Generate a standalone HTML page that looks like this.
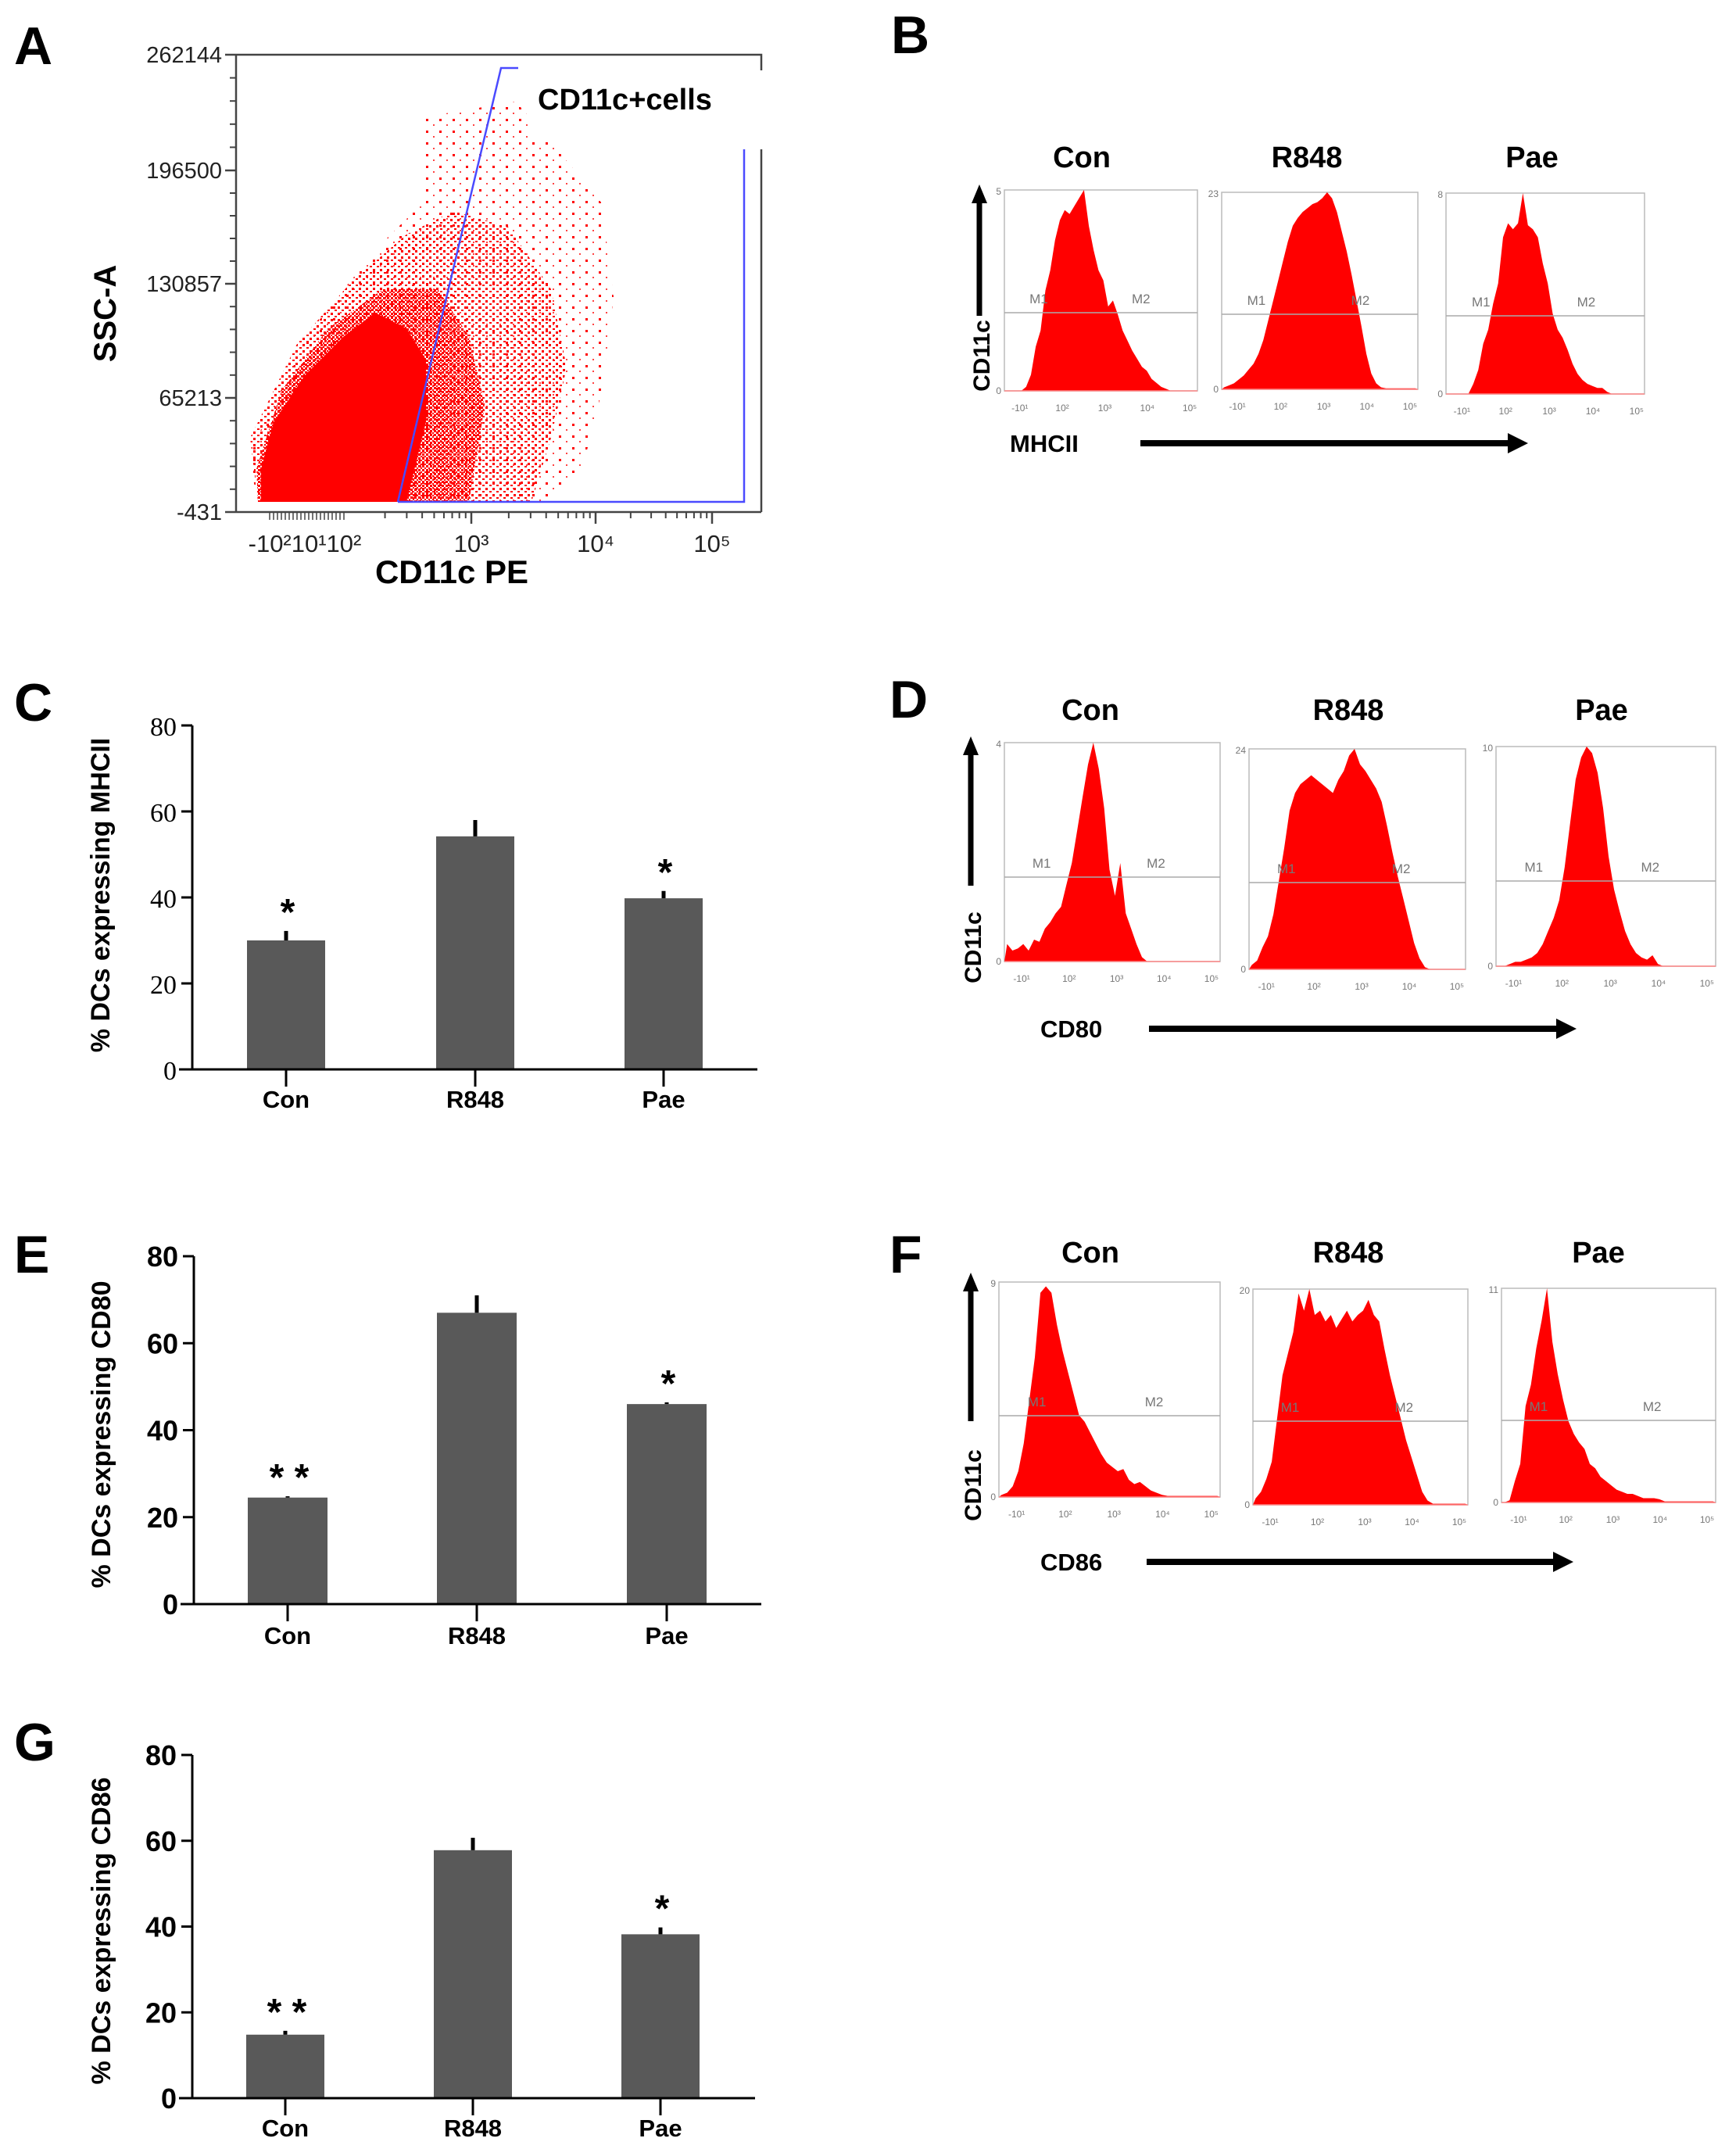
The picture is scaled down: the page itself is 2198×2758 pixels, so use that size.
<!DOCTYPE html>
<html><head><meta charset="utf-8"><title>DC flow cytometry figure</title>
<style>
html,body{margin:0;padding:0;background:#fff;}
svg{display:block;}
.lbl{font-family:"Liberation Sans",Arial,sans-serif;font-weight:bold;fill:#000;}
.reg{font-family:"Liberation Sans",Arial,sans-serif;fill:#222;}
.ser{font-family:"Liberation Serif","Times New Roman",serif;fill:#000;}
.sm{font-family:"Liberation Sans",Arial,sans-serif;fill:#777;}
</style></head>
<body>
<svg id="fig" xmlns="http://www.w3.org/2000/svg" width="2198" height="2758" viewBox="0 0 2198 2758">
<defs>
<pattern id="dotsSparse" width="17" height="15" patternUnits="userSpaceOnUse">
<rect x="1" y="2" width="3" height="3" fill="#f00"/><rect x="10" y="9" width="2" height="2" fill="#f44"/>
</pattern>
<pattern id="dotsMed" width="9" height="8" patternUnits="userSpaceOnUse">
<rect x="0" y="0" width="3" height="3" fill="#f00"/><rect x="5" y="4" width="3" height="2" fill="#f00"/>
</pattern>
<pattern id="dotsDense" width="5" height="5" patternUnits="userSpaceOnUse">
<rect x="0" y="0" width="3" height="3" fill="#f00"/><rect x="3" y="3" width="2" height="2" fill="#f00"/>
</pattern>
</defs>
<rect width="2198" height="2758" fill="#fff"/>

<!-- Panel A -->
<g id="panelA">
<text class="lbl" x="18" y="82" font-size="68">A</text>
<polygon points="540,150 660,130 720,200 770,260 785,380 770,500 745,600 700,645 330,645 318,580 400,420 480,320 540,260" fill="url(#dotsSparse)"/>
<polygon points="320,560 380,440 450,360 520,300 580,270 650,290 705,370 725,470 705,560 680,642 330,642" fill="url(#dotsMed)"/>
<polygon points="328,600 360,500 420,420 490,370 560,370 600,430 620,520 600,642 330,642" fill="url(#dotsDense)"/>
<polygon points="334,642 334,600 350,540 390,480 440,430 480,400 520,420 545,460 545,540 520,642" fill="#f00"/>
<polyline points="302,70 974,70 974,90" fill="none" stroke="#444" stroke-width="2.5"/>
<line x1="974" y1="191" x2="974" y2="655" stroke="#444" stroke-width="2.5"/>
<line x1="302" y1="70" x2="302" y2="655" stroke="#444" stroke-width="2.5"/>
<line x1="302" y1="655" x2="974" y2="655" stroke="#444" stroke-width="2.5"/>
<rect x="680" y="86" width="285" height="90" fill="#fff"/>
<polyline points="509,642 641,87 663,87" fill="none" stroke="#4a4aff" stroke-width="2.5"/>
<polyline points="509,642 952,642 952,191" fill="none" stroke="#4a4aff" stroke-width="2.5"/>
<text class="lbl" x="688" y="140" font-size="38">CD11c+cells</text>
<g id="aTicks"></g>
<text class="lbl" x="578" y="746" font-size="42" text-anchor="middle">CD11c PE</text>
<text class="lbl" x="148" y="401" font-size="40" text-anchor="middle" transform="rotate(-90 148 401)">SSC-A</text>
</g>

<g id="charts"></g>
</svg>
<script>
// ===== Panel A axis data =====
const aYTickLabels = ["262144","196500","130857","65213","-431"];
const aXTickLabels = ["10³","10⁴","10⁵"];

// ===== Bar chart data =====
const categories = ["Con","R848","Pae"];
const yTicks = [0,20,40,60,80];
const mhcValues = [30,54.2,39.8];
const mhcErr = [2.2,3.8,1.7];
const cd80Values = [24.5,67,46];
const cd80Err = [0.3,4,0.4];
const cd86Values = [14.8,57.8,38.2];
const cd86Err = [0.9,2.9,1.6];
const mhcStars = ["*","","*"];
const cd80Stars = ["* *","","*"];
const cd86Stars = ["* *","","*"];

// ===== Histogram data (relative counts, 40 bins across the x range) =====
const bCon = [0,0,0,0,0.02,0.08,0.22,0.3,0.5,0.6,0.75,0.85,0.9,0.88,0.92,0.96,1.0,0.82,0.7,0.6,0.55,0.42,0.45,0.38,0.3,0.25,0.2,0.16,0.12,0.1,0.06,0.04,0.02,0.01,0,0,0,0,0,0];
const bR848 = [0.01,0.02,0.03,0.05,0.07,0.1,0.13,0.18,0.25,0.35,0.45,0.55,0.65,0.75,0.83,0.87,0.9,0.92,0.94,0.95,0.97,1.0,0.97,0.9,0.8,0.7,0.58,0.45,0.32,0.18,0.08,0.03,0.01,0.005,0.005,0.005,0.005,0.005,0.005,0.005];
const bPae = [0,0,0,0,0,0.05,0.12,0.25,0.32,0.45,0.55,0.78,0.85,0.82,0.85,1.0,0.84,0.82,0.78,0.65,0.55,0.4,0.32,0.28,0.22,0.15,0.1,0.07,0.05,0.04,0.03,0.03,0.01,0,0,0,0,0,0,0];
const dCon = [0.08,0.05,0.06,0.08,0.05,0.1,0.09,0.15,0.18,0.22,0.25,0.35,0.45,0.6,0.75,0.9,1.0,0.88,0.7,0.42,0.3,0.45,0.22,0.15,0.08,0.02,0,0,0,0,0,0,0,0,0,0,0,0,0,0];
const dR848 = [0.02,0.04,0.1,0.15,0.25,0.4,0.55,0.72,0.8,0.84,0.86,0.88,0.86,0.84,0.82,0.8,0.86,0.9,0.97,1.0,0.93,0.9,0.86,0.82,0.76,0.65,0.53,0.42,0.32,0.22,0.12,0.05,0.01,0,0,0,0,0,0,0];
const dPae = [0,0,0.01,0.02,0.02,0.03,0.04,0.06,0.1,0.16,0.22,0.3,0.45,0.65,0.85,0.95,1.0,0.97,0.88,0.72,0.5,0.35,0.25,0.16,0.1,0.06,0.04,0.03,0.05,0.01,0,0,0,0,0,0,0,0,0,0];
const fCon = [0.01,0.02,0.05,0.12,0.25,0.45,0.65,0.95,0.98,0.95,0.8,0.68,0.58,0.48,0.38,0.35,0.3,0.25,0.2,0.16,0.14,0.12,0.13,0.08,0.06,0.07,0.05,0.03,0.02,0.01,0.005,0.005,0.005,0.005,0.005,0.005,0.005,0.005,0.005,0.005];
const fR848 = [0.03,0.06,0.12,0.2,0.4,0.6,0.7,0.8,0.98,0.9,1.0,0.88,0.9,0.85,0.88,0.82,0.86,0.9,0.85,0.88,0.9,0.95,0.88,0.85,0.72,0.6,0.5,0.4,0.3,0.22,0.14,0.06,0.02,0.005,0.005,0.005,0.005,0.005,0.005,0.005];
const fPae = [0,0.01,0.1,0.18,0.45,0.55,0.72,0.85,1.0,0.75,0.6,0.48,0.38,0.32,0.28,0.25,0.18,0.16,0.12,0.1,0.08,0.06,0.05,0.04,0.04,0.03,0.02,0.02,0.02,0.015,0.005,0.005,0.005,0.005,0.005,0.005,0.005,0.005,0.005,0.005];
const histXTicks = ["-10¹","10²","10³","10⁴","10⁵"];

const NS = "http://www.w3.org/2000/svg";
const root = document.getElementById("charts");
function mk(tag, attrs, parent, text){
  const e = document.createElementNS(NS, tag);
  for (const k in attrs) e.setAttribute(k, attrs[k]);
  if (text !== undefined) e.textContent = text;
  (parent || root).appendChild(e);
  return e;
}

// ----- Panel A ticks -----
(function(){
  const g = document.getElementById("aTicks");
  const yPos = [70,218,363,509,655];
  aYTickLabels.forEach((t,i)=>{
    const ln = mk("line",{x1:288,y1:yPos[i],x2:302,y2:yPos[i],stroke:"#444","stroke-width":2.5},g);
    
    
    const tx = mk("text",{x:284,y:yPos[i]+10,"font-size":29,"text-anchor":"end",class:"reg"},g,t);
    
    
    if(i<4){ for(let k=1;k<5;k++){ const yy=yPos[i]+(yPos[i+1]-yPos[i])*k/5;
      const m = mk("line",{x1:294,y1:yy,x2:302,y2:yy,stroke:"#444","stroke-width":2},g);
      
       } }
  });
  const decX = [445,603,762,911];
  for(let d=0; d<3; d++){
    for(let k=2;k<10;k++){
      const xx = decX[d] + (decX[d+1]-decX[d])*Math.log10(k);
      const m = mk("line",{x1:xx,y1:655,x2:xx,y2:663,stroke:"#444","stroke-width":2},g);
      
      
    }
  }
  for(let xx=345; xx<445; xx+=5){
    const m = mk("line",{x1:xx,y1:655,x2:xx,y2:665,stroke:"#444","stroke-width":1.5},g);
    
    
  }
  decX.slice(1).forEach((xx,i)=>{
    const m = mk("line",{x1:xx,y1:655,x2:xx,y2:670,stroke:"#444","stroke-width":2.5},g);
    
    
    const t = mk("text",{x:xx,y:706,"font-size":31,"text-anchor":"middle",class:"reg"},g,aXTickLabels[i]);
    
    
  });
  const t0 = mk("text",{x:390,y:706,"font-size":31,"text-anchor":"middle",class:"reg"},g,"-10²10¹10²");
  
  
})();

// ----- Bar charts -----
function barChart(o){
  const g = mk("g",{});
  
  
  const y = v => o.yBot - (v/80)*(o.yBot-o.yTop);
  const pl = mk("text",{x:18,y:o.letterY,"font-size":68,class:"lbl"},g,o.letter);
  
  
  o.values.forEach((v,i)=>{
    const cx = o.centers[i];
    const b = mk("rect",{x:cx-o.bw/2,y:y(v),width:o.bw,height:o.yBot-y(v),fill:"#595959"},g);
    
    
    const e = mk("line",{x1:cx,y1:y(v),x2:cx,y2:y(v+o.err[i]),stroke:"#000","stroke-width":5},g);
    
    
    if(o.stars[i]){
      const s = mk("text",{x:cx+2,y:y(v+o.err[i])-8,"font-size":48,"text-anchor":"middle",class:"lbl"},g,o.stars[i]);
      
      
    }
    const tk = mk("line",{x1:cx,y1:o.yBot,x2:cx,y2:o.yBot+22,stroke:"#000","stroke-width":3},g);
    
    
    const cl = mk("text",{x:cx,y:o.labY+2,"font-size":31,"text-anchor":"middle",class:"lbl"},g,categories[i]);
    
    
  });
  yTicks.forEach(t=>{
    const tk = mk("line",{x1:o.ax-14,y1:y(t),x2:o.ax,y2:y(t),stroke:"#000","stroke-width":3},g);
    
    
    const tl = mk("text",{x:o.ax-20,y:y(t)+13,"font-size":o.tickFs,"text-anchor":"end",class:o.tickCls},g,String(t));
    
    
  });
  const ya = mk("line",{x1:o.ax,y1:o.yTop,x2:o.ax,y2:o.yBot,stroke:"#000","stroke-width":3},g);
  
  
  const xa = mk("line",{x1:o.ax-17,y1:o.yBot,x2:o.xEnd,y2:o.yBot,stroke:"#000","stroke-width":3},g);
  
  
  const tt = mk("text",{x:o.titleX,y:o.titleY,"font-size":34,"text-anchor":"middle",class:"lbl",transform:"rotate(-90 "+o.titleX+" "+o.titleY+")"},g,o.title);
  
  
}
barChart({name:"panel-c-mhcii-bars",letter:"C",letterY:922,ax:246,yTop:928,yBot:1368,xEnd:969,centers:[366,608,849],bw:100,labY:1415,values:mhcValues,err:mhcErr,stars:mhcStars,title:"% DCs expressing MHCII",titleX:140,titleY:1145,tickFs:34,tickCls:"ser"});
barChart({name:"panel-e-cd80-bars",letter:"E",letterY:1628,ax:248,yTop:1607,yBot:2052,xEnd:974,centers:[368,610,853],bw:102,labY:2101,values:cd80Values,err:cd80Err,stars:cd80Stars,title:"% DCs expressing CD80",titleX:141,titleY:1835,tickFs:36,tickCls:"lbl"});
barChart({name:"panel-g-cd86-bars",letter:"G",letterY:2252,ax:246,yTop:2245,yBot:2684,xEnd:966,centers:[365,605,845],bw:100,labY:2731,values:cd86Values,err:cd86Err,stars:cd86Stars,title:"% DCs expressing CD86",titleX:141,titleY:2470,tickFs:36,tickCls:"lbl"});

// ----- Histograms -----
function hist(o){
  const g = mk("g",{});
  
  
  const w = o.x1-o.x0, h = o.y1-o.y0;
  const n = o.bins.length;
  const px = i => o.x0 + w*(i+0.5)/n;
  const py = v => o.y1 - v*h;
  let pts = o.x0+","+o.y1+" ";
  o.bins.forEach((v,i)=>{ pts += px(i).toFixed(1)+","+py(v).toFixed(1)+" "; });
  pts += o.x1+","+o.y1;
  const f = mk("rect",{x:o.x0,y:o.y0,width:w,height:h,fill:"none",stroke:"#bbb","stroke-width":1.5},g);
  
  
  const p = mk("polygon",{points:pts,fill:"#f00"},g);
  
  
  const bl = mk("line",{x1:o.x0,y1:o.y1,x2:o.x1,y2:o.y1,stroke:"#f88","stroke-width":1.5},g);
  
  
  const ml = mk("line",{x1:o.x0,y1:o.my,x2:o.x1,y2:o.my,stroke:"#aaa","stroke-width":1.5},g);
  
  
  const m1 = mk("text",{x:o.x0+w*0.13,y:o.my-12,"font-size":17,class:"sm"},g,"M1");
  
  
  const m2 = mk("text",{x:o.x0+w*0.66,y:o.my-12,"font-size":17,class:"sm"},g,"M2");
  
  
  histXTicks.forEach((t,i)=>{
    const tx = o.x0 + w*(0.08+0.22*i);
    const tl = mk("text",{x:tx,y:o.y1+26,"font-size":12,"text-anchor":"middle",class:"sm",fill:"#555"},g,t);
    
    
  });
  const ym = mk("text",{x:o.x0-4,y:o.y0+6,"font-size":12,"text-anchor":"end",class:"sm"},g,o.ymax);
  
  
  const y0l = mk("text",{x:o.x0-4,y:o.y1+4,"font-size":12,"text-anchor":"end",class:"sm"},g,"0");
  
  
  const ti = mk("text",{x:o.tx,y:o.ty,"font-size":38,"text-anchor":"middle",class:"lbl"},g,o.title);
  
  
}
function arrows(o){
  const g = mk("g",{});
  
  
  const v = mk("line",{x1:o.ax,y1:o.aBot,x2:o.ax,y2:o.aTop+22,stroke:"#000","stroke-width":7},g);
  
  
  const vh = mk("polygon",{points:(o.ax-10)+","+(o.aTop+24)+" "+(o.ax+10)+","+(o.aTop+24)+" "+o.ax+","+o.aTop,fill:"#000"},g);
  
  
  const ct = mk("text",{x:o.ax+13,y:o.cy,"font-size":30,"text-anchor":"middle",class:"lbl",transform:"rotate(-90 "+(o.ax+13)+" "+o.cy+")"},g,"CD11c");
  
  
  const xt = mk("text",{x:o.lx,y:o.hy+11,"font-size":31,class:"lbl"},g,o.label);
  
  
  const h = mk("line",{x1:o.hx0,y1:o.hy,x2:o.hx1-24,y2:o.hy,stroke:"#000","stroke-width":8},g);
  
  
  const hh = mk("polygon",{points:(o.hx1-26)+","+(o.hy-13)+" "+(o.hx1-26)+","+(o.hy+13)+" "+o.hx1+","+o.hy,fill:"#000"},g);
  
  
}
const bl = mk("text",{x:1140,y:68,"font-size":68,class:"lbl"});


bl.textContent = "B";
hist({name:"hist-b-con",x0:1285,y0:243,x1:1532,y1:500,bins:bCon,my:400,ymax:"5",title:"Con",tx:1384,ty:214});
hist({name:"hist-b-r848",x0:1563,y0:246,x1:1814,y1:498,bins:bR848,my:402,ymax:"23",title:"R848",tx:1672,ty:214});
hist({name:"hist-b-pae",x0:1850,y0:247,x1:2104,y1:504,bins:bPae,my:404,ymax:"8",title:"Pae",tx:1960,ty:214});
arrows({name:"panel-b-axes",ax:1253,aTop:236,aBot:404,cy:455,label:"MHCII",lx:1292,hx0:1459,hx1:1955,hy:567});

const dl = mk("text",{x:1138,y:918,"font-size":68,class:"lbl"});


dl.textContent = "D";
hist({name:"hist-d-con",x0:1285,y0:950,x1:1561,y1:1230,bins:dCon,my:1122,ymax:"4",title:"Con",tx:1395,ty:921});
hist({name:"hist-d-r848",x0:1598,y0:958,x1:1875,y1:1240,bins:dR848,my:1129,ymax:"24",title:"R848",tx:1725,ty:921});
hist({name:"hist-d-pae",x0:1914,y0:955,x1:2195,y1:1236,bins:dPae,my:1127,ymax:"10",title:"Pae",tx:2049,ty:921});
arrows({name:"panel-d-axes",ax:1242,aTop:942,aBot:1133,cy:1212,label:"CD80",lx:1331,hx0:1470,hx1:2017,hy:1316});

const fl = mk("text",{x:1138,y:1628,"font-size":68,class:"lbl"});


fl.textContent = "F";
hist({name:"hist-f-con",x0:1278,y0:1640,x1:1561,y1:1915,bins:fCon,my:1811,ymax:"9",title:"Con",tx:1395,ty:1615});
hist({name:"hist-f-r848",x0:1603,y0:1649,x1:1878,y1:1925,bins:fR848,my:1818,ymax:"20",title:"R848",tx:1725,ty:1615});
hist({name:"hist-f-pae",x0:1921,y0:1648,x1:2195,y1:1922,bins:fPae,my:1817,ymax:"11",title:"Pae",tx:2045,ty:1615});
arrows({name:"panel-f-axes",ax:1242,aTop:1628,aBot:1818,cy:1900,label:"CD86",lx:1331,hx0:1467,hx1:2013,hy:1998});
</script>
</body></html>
